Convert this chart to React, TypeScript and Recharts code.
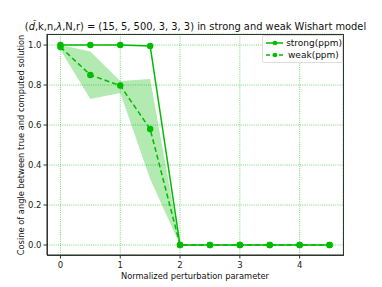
import React from "react";
import {
  ComposedChart,
  Line,
  Area,
  XAxis,
  YAxis,
  CartesianGrid,
} from "recharts";

// perturbation values (x axis)
const perturbation = [0, 0.5, 1, 1.5, 2, 2.5, 3, 3.5, 4, 4.5];
// cosine values
const strongPpm = [1.0, 1.0, 1.0, 0.995, 0, 0, 0, 0, 0, 0];
const weakPpm = [0.99, 0.85, 0.797, 0.58, 0, 0, 0, 0, 0, 0];
const weakLow = [0.975, 0.73, 0.76, 0.33, 0, 0, 0, 0, 0, 0];
const weakHigh = [1.0, 0.968, 0.82, 0.83, 0, 0, 0, 0, 0, 0];

const xTicks = [0, 1, 2, 3, 4];
const yTicks = [0, 0.2, 0.4, 0.6, 0.8, 1.0];

const seriesNames = ["strong(ppm)", "weak(ppm)"];

const GREEN = "#00bb00";
const FONT = "DejaVu Sans, sans-serif";

const data = perturbation.map((x, i) => ({
  x,
  strong: strongPpm[i],
  weak: weakPpm[i],
  band: [weakLow[i], weakHigh[i]],
}));

// plot box in pixels
const PLOT = { left: 47, top: 34, right: 343, bottom: 255 };

const App: React.FC = () => {
  return (
    <div
      style={{
        position: "absolute",
        left: 0,
        top: 0,
        width: 382,
        height: 287,
        background: "#fff",
        fontFamily: FONT,
      }}
    >
      <ComposedChart
        width={382}
        height={287}
        data={data}
        margin={{ top: PLOT.top, right: 382 - PLOT.right, left: 0, bottom: 0 }}
      >
        <CartesianGrid
          stroke="#55cc55"
          strokeDasharray="1 1.2"
          strokeWidth={0.8}
        />
        <XAxis
          type="number"
          dataKey="x"
          domain={[-0.225, 4.725]}
          ticks={xTicks}
          height={287 - PLOT.bottom}
          tick={{ fontSize: 8.5, fill: "#222", fontFamily: FONT, dy: 1 }}
          tickSize={3.5}
          tickLine={{ stroke: "#333" }}
          axisLine={{ stroke: "#333" }}
          allowDataOverflow
        />
        <YAxis
          type="number"
          domain={[-0.05, 1.055]}
          ticks={yTicks}
          width={PLOT.left}
          tickFormatter={(v: number) => v.toFixed(1)}
          tick={{ fontSize: 8.5, fill: "#222", fontFamily: FONT }}
          tickSize={3.5}
          tickLine={{ stroke: "#333" }}
          axisLine={{ stroke: "#333" }}
          allowDataOverflow
        />
        <Area
          dataKey="band"
          stroke="none"
          fill={GREEN}
          fillOpacity={0.3}
          isAnimationActive={false}
          dot={false}
          activeDot={false}
        />
        <Line
          dataKey="strong"
          stroke={GREEN}
          strokeWidth={1.5}
          dot={{ r: 2.5, fill: GREEN, stroke: GREEN }}
          isAnimationActive={false}
        />
        <Line
          dataKey="weak"
          stroke={GREEN}
          strokeWidth={1.5}
          strokeDasharray="5 3"
          dot={{ r: 2.5, fill: GREEN, stroke: GREEN, strokeDasharray: "" }}
          isAnimationActive={false}
        />
      </ComposedChart>

      {/* frame around the plot */}
      <div
        style={{
          position: "absolute",
          left: PLOT.left,
          top: PLOT.top,
          width: PLOT.right - PLOT.left - 1,
          height: PLOT.bottom - PLOT.top - 1,
          border: "1px solid #333",
          pointerEvents: "none",
        }}
      />

      {/* title */}
      <div
        style={{
          position: "absolute",
          left: 0,
          width: 391,
          top: 19.5,
          textAlign: "center",
          fontSize: 9.9,
          lineHeight: "13px",
          color: "#111",
          whiteSpace: "nowrap",
        }}
      >
        (<i>d̃</i>,k,n,<i>λ</i>,N,r) = (15, 5, 500, 3, 3, 3) in strong and weak Wishart model
      </div>

      {/* y label */}
      <div
        style={{
          position: "absolute",
          left: 21 - 150,
          top: 145 - 6,
          width: 300,
          textAlign: "center",
          fontSize: 8.3,
          lineHeight: "12px",
          color: "#111",
          transform: "rotate(-90deg)",
          whiteSpace: "nowrap",
        }}
      >
        Cosine of angle between true and computed solution
      </div>

      {/* x label */}
      <div
        style={{
          position: "absolute",
          left: PLOT.left,
          width: PLOT.right - PLOT.left,
          top: 270,
          textAlign: "center",
          fontSize: 8.3,
          lineHeight: "12px",
          color: "#111",
          whiteSpace: "nowrap",
        }}
      >
        Normalized perturbation parameter
      </div>

      {/* legend */}
      <div
        style={{
          position: "absolute",
          left: 262,
          top: 35,
          width: 79,
          height: 26,
          border: "1px solid #ddd",
          borderRadius: 2,
          background: "rgba(255,255,255,0.85)",
          fontSize: 9,
          color: "#111",
        }}
      >
        {seriesNames.map((name, i) => (
          <div
            key={name}
            style={{
              display: "flex",
              alignItems: "center",
              height: 12,
              marginTop: i === 0 ? 1 : 0,
            }}
          >
            <svg width={20} height={8} style={{ marginLeft: 2, marginRight: 3 }}>
              <line
                x1={1}
                y1={4}
                x2={19}
                y2={4}
                stroke={GREEN}
                strokeWidth={1.5}
                strokeDasharray={i === 1 ? "4 2.5" : undefined}
              />
              <circle cx={10} cy={4} r={2.3} fill={GREEN} />
            </svg>
            <span>{name}</span>
          </div>
        ))}
      </div>
    </div>
  );
};

export default App;
